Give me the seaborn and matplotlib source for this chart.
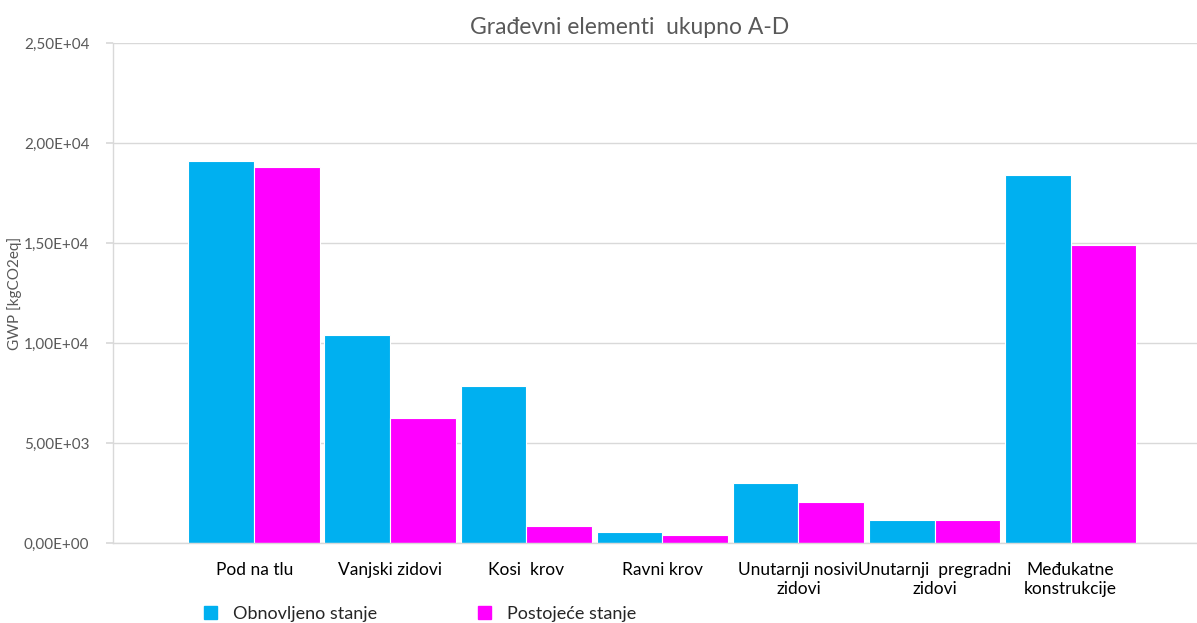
import matplotlib
matplotlib.use("Agg")
import matplotlib.pyplot as plt
import seaborn as sns
import pandas as pd
from matplotlib.ticker import FuncFormatter, MultipleLocator

categories = ["Pod na tlu", "Vanjski zidovi", "Kosi  krov", "Ravni krov",
              "Unutarnji nosivi\nzidovi", "Unutarnji  pregradni\nzidovi",
              "Međukatne\nkonstrukcije"]
series_names = ["Obnovljeno stanje", "Postojeće stanje"]
obnovljeno = [19100, 10400, 7850, 550, 3000, 1150, 18400]
postojece = [18800, 6250, 850, 400, 2050, 1150, 14900]
colors = ["#00B0F0", "#FF00FF"]

df = pd.DataFrame({
    "element": categories * 2,
    "stanje": [series_names[0]] * len(categories) + [series_names[1]] * len(categories),
    "gwp": obnovljeno + postojece,
})

sns.set_theme(style="white")
plt.rcParams["font.family"] = ["Lato", "DejaVu Sans"]

fig = plt.figure(figsize=(11.97, 6.23), dpi=100)
ax = fig.add_axes([113 / 1197, 1 - 543 / 623, 1 - 113 / 1197, 500 / 623])

sns.barplot(data=df, x="element", y="gwp", hue="stanje", order=categories,
            hue_order=series_names, palette=colors, width=0.97, gap=0,
            edgecolor="white", linewidth=0.8, saturation=1, ax=ax, legend=False)

ax.set_ylim(0, 25000)
ax.set_xlim(-1.04, 6.93)
ax.yaxis.set_major_locator(MultipleLocator(5000))
ax.yaxis.set_major_formatter(FuncFormatter(lambda v, p: f"{v:.2E}".replace(".", ",")))
ax.grid(axis="y", color="#D9D9D9", linewidth=1)
ax.set_axisbelow(True)
for s in ["top", "right"]:
    ax.spines[s].set_visible(False)
for s in ["left", "bottom"]:
    ax.spines[s].set_color("#D9D9D9")
    ax.spines[s].set_linewidth(1)
ax.tick_params(axis="y", which="major", left=True, length=5, color="#D9D9D9",
               labelsize=11, labelcolor="#595959", pad=12)
ax.tick_params(axis="x", bottom=False, labelsize=12.5, labelcolor="#000000", pad=8)
ax.set_xlabel("")
ax.set_ylabel("GWP [kgCO2eq]", fontsize=11, color="#595959")
ax.yaxis.set_label_coords(-0.084, 0.5)

fig.text(630 / 1197, 1 - 28 / 623, "Građevni elementi  ukupno A-D",
         ha="center", va="center", fontsize=16.5, color="#595959")

handles = [plt.Rectangle((0, 0), 1, 1, color=c) for c in colors]
fig.legend(handles, series_names, loc="center left",
           bbox_to_anchor=(188 / 1197, 1 - 614 / 623), ncol=2, frameon=False,
           handlelength=0.7, handleheight=0.7, handletextpad=0.9,
           columnspacing=5.6, fontsize=13)

fig.savefig("out.png", dpi=100)
